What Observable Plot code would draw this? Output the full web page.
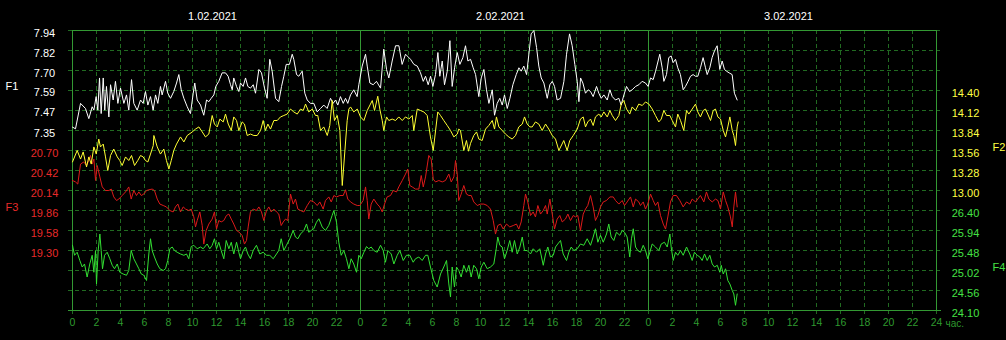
<!DOCTYPE html>
<html><head><meta charset="utf-8">
<script src="https://cdn.jsdelivr.net/npm/d3@7"></script>
<script src="https://cdn.jsdelivr.net/npm/@observablehq/plot@0.6"></script>
<style>
html,body{margin:0;padding:0;background:#000;}
#chart{position:relative;width:1006px;height:340px;overflow:hidden;background:#000;}
#chart svg{position:absolute;left:0;top:0;background:transparent !important;}
</style></head><body><div id="chart"></div>
<script>
// ---- data (hours since 1.02.2021 00:00, value) ----
const dates = ["1.02.2021", "2.02.2021", "3.02.2021"];
const dateNoon = [12, 36, 60];
const hourTicks = d3.range(0, 73, 2);
const dayBounds = [24, 48];

const f1Ticks = [7.94, 7.82, 7.70, 7.59, 7.47, 7.35];
const f2Ticks = [14.40, 14.12, 13.84, 13.56, 13.28, 13.00];
const f3Ticks = [20.70, 20.42, 20.14, 19.86, 19.58, 19.30];
const f4Ticks = [26.40, 25.94, 25.48, 25.02, 24.56, 24.10];

const f1 = [[0,7.37],[0.25,7.36],[0.67,7.51],[1.08,7.48],[1.36,7.42],[1.64,7.49],[1.78,7.47],[1.97,7.55],[2.11,7.47],[2.25,7.66],[2.39,7.45],[2.56,7.66],[2.69,7.47],[2.83,7.61],[3.03,7.43],[3.17,7.62],[3.39,7.53],[3.58,7.64],[3.78,7.51],[4.0,7.60],[4.28,7.51],[4.5,7.56],[4.69,7.47],[4.92,7.65],[5.11,7.51],[5.39,7.47],[5.67,7.53],[5.89,7.51],[6.08,7.58],[6.28,7.50],[6.5,7.55],[6.72,7.47],[6.92,7.56],[7.11,7.51],[7.33,7.61],[7.47,7.56],[7.75,7.64],[7.94,7.57],[8.17,7.54],[8.44,7.58],[8.67,7.63],[8.86,7.68],[9.06,7.59],[9.28,7.54],[9.56,7.49],[9.83,7.45],[10.06,7.57],[10.19,7.63],[10.39,7.53],[10.67,7.50],[10.94,7.44],[11.17,7.53],[11.36,7.52],[11.56,7.54],[11.78,7.56],[11.94,7.61],[12.19,7.64],[12.47,7.69],[12.75,7.69],[12.97,7.67],[13.17,7.62],[13.31,7.59],[13.44,7.66],[13.67,7.61],[13.86,7.58],[14.0,7.63],[14.22,7.61],[14.42,7.66],[14.61,7.61],[14.83,7.60],[15.06,7.62],[15.25,7.57],[15.53,7.71],[15.75,7.69],[16.0,7.60],[16.22,7.54],[16.44,7.77],[16.64,7.70],[16.92,7.54],[17.19,7.52],[17.42,7.61],[17.61,7.67],[17.81,7.74],[18.08,7.74],[18.31,7.80],[18.44,7.77],[18.67,7.68],[18.86,7.67],[19.14,7.70],[19.36,7.57],[19.56,7.53],[19.83,7.51],[20.11,7.51],[20.39,7.46],[20.67,7.48],[20.94,7.50],[21.22,7.48],[21.5,7.54],[21.72,7.51],[21.92,7.53],[22.11,7.50],[22.33,7.55],[22.56,7.51],[22.75,7.54],[22.94,7.51],[23.17,7.56],[23.44,7.59],[23.72,7.55],[23.86,7.62],[24.14,7.73],[24.42,7.80],[24.56,7.73],[24.78,7.63],[25.06,7.62],[25.33,7.64],[25.67,7.60],[25.94,7.83],[26.17,7.71],[26.36,7.66],[26.64,7.76],[26.92,7.85],[27.2,7.85],[27.47,7.74],[27.75,7.80],[28.17,7.77],[28.45,7.74],[28.73,7.73],[29.0,7.69],[29.23,7.64],[29.42,7.67],[29.64,7.62],[29.84,7.67],[30.03,7.61],[30.25,7.68],[30.45,7.81],[30.61,7.67],[30.81,7.76],[31.0,7.62],[31.23,7.70],[31.45,7.88],[31.64,7.61],[31.84,7.72],[32.06,7.81],[32.28,7.74],[32.53,7.78],[32.75,7.85],[32.95,7.76],[33.17,7.77],[33.39,7.72],[33.59,7.68],[33.86,7.55],[34.06,7.66],[34.28,7.71],[34.5,7.59],[34.7,7.51],[34.98,7.59],[35.17,7.44],[35.39,7.51],[35.61,7.54],[35.81,7.50],[36.0,7.56],[36.23,7.48],[36.45,7.54],[36.7,7.62],[36.98,7.68],[37.2,7.72],[37.39,7.70],[37.61,7.73],[37.84,7.68],[38.03,7.80],[38.22,7.92],[38.45,7.94],[38.67,7.84],[38.86,7.73],[39.06,7.66],[39.28,7.63],[39.56,7.54],[39.78,7.62],[39.98,7.64],[40.17,7.61],[40.39,7.53],[40.67,7.54],[40.95,7.64],[41.17,7.80],[41.42,7.92],[41.64,7.85],[41.86,7.74],[42.06,7.64],[42.2,7.52],[42.34,7.66],[42.53,7.63],[42.75,7.57],[42.98,7.59],[43.17,7.58],[43.39,7.55],[43.67,7.61],[43.86,7.57],[44.06,7.54],[44.28,7.56],[44.56,7.53],[44.78,7.59],[44.98,7.55],[45.25,7.53],[45.53,7.54],[45.72,7.50],[45.95,7.56],[46.17,7.61],[46.42,7.58],[46.64,7.59],[46.92,7.61],[47.2,7.62],[47.47,7.64],[47.75,7.63],[47.97,7.61],[48.17,7.66],[48.39,7.65],[48.59,7.70],[48.94,7.80],[49.14,7.72],[49.28,7.64],[49.5,7.68],[49.69,7.78],[49.89,7.79],[50.05,7.75],[50.25,7.77],[50.44,7.72],[50.66,7.68],[50.89,7.59],[51.08,7.61],[51.3,7.64],[51.5,7.67],[51.72,7.68],[51.91,7.67],[52.11,7.67],[52.33,7.72],[52.55,7.78],[52.75,7.72],[52.89,7.68],[53.11,7.72],[53.3,7.78],[53.5,7.82],[53.72,7.85],[53.94,7.71],[54.14,7.76],[54.33,7.71],[54.5,7.70],[54.72,7.69],[54.97,7.68],[55.16,7.57],[55.39,7.53]];

const f2 = [[0,13.40],[0.39,13.56],[0.67,13.44],[0.89,13.54],[1.17,13.33],[1.36,13.47],[1.56,13.37],[1.78,13.61],[1.98,13.51],[2.19,13.72],[2.33,13.61],[2.56,13.65],[2.75,13.47],[2.94,13.28],[3.17,13.49],[3.44,13.58],[3.73,13.47],[3.94,13.42],[4.14,13.35],[4.42,13.47],[4.69,13.42],[4.92,13.49],[5.17,13.35],[5.44,13.42],[5.67,13.49],[5.89,13.47],[6.08,13.42],[6.28,13.40],[6.5,13.51],[6.73,13.63],[6.78,13.77],[7.06,13.61],[7.33,13.51],[7.61,13.58],[7.83,13.42],[8.03,13.30],[8.23,13.42],[8.44,13.56],[8.67,13.65],[9.0,13.75],[9.28,13.68],[9.56,13.77],[9.98,13.82],[10.25,13.86],[10.53,13.89],[10.81,13.82],[11.08,13.75],[11.36,13.79],[11.64,14.05],[11.83,13.93],[12.06,13.89],[12.28,14.00],[12.56,13.96],[12.75,14.07],[12.98,13.93],[13.23,13.84],[13.44,14.03],[13.67,13.98],[13.86,13.84],[14.14,13.96],[14.33,13.93],[14.56,13.77],[14.83,13.79],[15.11,13.77],[15.39,13.77],[15.67,13.84],[15.89,13.98],[16.08,13.84],[16.28,13.93],[16.5,13.86],[16.78,13.98],[17.06,13.98],[17.33,14.03],[17.61,14.05],[17.89,14.07],[18.17,14.14],[18.44,14.10],[18.73,14.07],[19.0,14.14],[19.23,14.12],[19.42,14.21],[19.69,14.10],[19.98,14.14],[20.25,14.05],[20.44,14.05],[20.67,13.84],[20.94,13.89],[21.23,13.77],[21.44,13.91],[21.64,14.26],[21.83,13.98],[22.06,14.05],[22.28,13.84],[22.48,13.07],[22.89,13.98],[23.03,14.14],[23.17,14.17],[23.44,14.10],[23.73,14.14],[24.0,14.03],[24.28,13.98],[24.56,14.12],[24.83,14.21],[24.98,14.26],[25.17,14.12],[25.44,14.32],[25.61,14.14],[25.81,13.98],[25.94,13.84],[26.17,14.03],[26.36,13.98],[26.64,14.00],[26.92,13.98],[27.19,14.03],[27.48,13.98],[27.75,14.03],[28.03,14.00],[28.31,14.05],[28.44,13.84],[28.73,14.14],[29.0,14.12],[29.28,14.10],[29.56,14.05],[29.83,13.75],[30.06,13.56],[30.44,14.10],[30.67,14.05],[30.94,13.98],[31.23,13.91],[31.5,13.84],[31.78,13.75],[32.06,13.79],[32.19,13.86],[32.33,13.84],[32.61,13.56],[32.83,13.70],[33.0,13.55],[33.17,13.66],[33.44,13.77],[33.67,13.82],[33.86,13.72],[34.14,13.70],[34.42,13.86],[34.69,13.91],[34.98,13.98],[35.17,13.86],[35.33,14.03],[35.53,13.89],[35.81,13.84],[36.08,13.79],[36.36,13.75],[36.64,13.72],[36.92,13.77],[37.19,13.89],[37.48,13.93],[37.67,14.03],[37.89,13.93],[38.11,13.89],[38.31,13.89],[38.58,13.96],[38.86,13.93],[39.14,13.84],[39.42,13.93],[39.69,13.86],[39.98,13.77],[40.25,13.72],[40.53,13.56],[40.94,13.70],[41.22,13.56],[41.44,13.70],[41.73,13.77],[42.06,13.86],[42.33,14.00],[42.56,14.03],[42.75,13.89],[42.94,13.96],[43.17,14.00],[43.39,13.91],[43.58,14.03],[43.86,14.07],[44.06,14.03],[44.28,14.10],[44.56,14.03],[44.78,14.12],[44.98,14.05],[45.25,13.98],[45.53,14.05],[45.73,14.21],[45.94,14.26],[46.17,14.14],[46.44,14.07],[46.64,14.17],[46.92,14.12],[47.19,14.21],[47.48,14.19],[47.75,14.24],[48.03,14.21],[48.31,14.14],[48.58,14.05],[48.86,13.96],[49.06,14.00],[49.28,14.12],[49.5,14.05],[49.78,14.05],[49.98,13.98],[50.25,13.89],[50.44,14.07],[50.67,13.98],[50.94,13.84],[51.17,14.12],[51.36,14.07],[51.64,14.14],[51.92,14.21],[52.11,14.10],[52.33,14.03],[52.56,14.12],[52.75,14.14],[52.94,14.07],[53.17,13.98],[53.39,14.12],[53.58,14.14],[53.78,14.03],[54.0,14.00],[54.23,13.84],[54.42,13.75],[54.61,13.89],[54.78,14.03],[54.98,13.84],[55.11,13.77],[55.25,13.63],[55.39,13.89],[55.48,13.96]];

const f3 = [[0,20.28],[0.25,20.26],[0.44,20.23],[0.67,20.51],[0.94,20.54],[1.17,20.49],[1.36,20.56],[1.5,20.63],[1.64,20.51],[1.78,20.58],[1.92,20.28],[2.06,20.49],[2.28,20.33],[2.48,20.19],[2.75,20.14],[3.03,20.14],[3.23,20.16],[3.44,20.05],[3.67,20.00],[3.86,20.02],[4.14,20.07],[4.42,20.12],[4.69,20.19],[4.89,20.02],[5.11,20.14],[5.33,20.07],[5.53,20.12],[5.73,20.07],[5.94,20.09],[6.17,20.14],[6.36,20.15],[6.64,20.16],[6.83,20.14],[7.06,20.02],[7.28,19.95],[7.56,19.93],[7.83,19.91],[8.11,19.86],[8.39,19.84],[8.58,19.91],[8.78,19.95],[9.0,19.84],[9.23,19.91],[9.42,19.88],[9.69,19.86],[9.89,19.88],[10.11,19.77],[10.25,19.63],[10.39,19.72],[10.61,19.84],[10.81,19.65],[10.94,19.39],[11.14,19.58],[11.36,19.67],[11.64,19.74],[11.83,19.84],[12.0,19.60],[12.19,19.72],[12.39,19.70],[12.61,19.72],[12.83,19.79],[13.03,19.81],[13.23,19.74],[13.44,19.67],[13.67,19.58],[13.86,19.56],[14.14,19.51],[14.33,19.39],[14.5,19.44],[14.64,19.63],[14.83,19.84],[15.06,19.88],[15.33,19.86],[15.53,19.91],[15.75,19.84],[15.94,19.72],[16.17,19.86],[16.36,19.91],[16.56,19.84],[16.78,19.88],[17.0,19.84],[17.19,19.81],[17.39,19.65],[17.56,19.70],[17.75,19.74],[17.94,19.72],[18.17,20.09],[18.39,19.95],[18.58,20.02],[18.78,19.88],[19.0,19.86],[19.28,19.84],[19.56,19.93],[19.83,20.00],[20.11,19.98],[20.39,19.93],[20.61,19.98],[20.89,19.88],[21.08,20.00],[21.36,20.05],[21.56,19.98],[21.78,20.07],[22.0,20.05],[22.28,20.07],[22.56,20.07],[22.75,20.15],[22.94,20.02],[23.17,19.98],[23.44,19.95],[23.73,19.93],[23.94,19.93],[24.22,20.00],[24.42,20.19],[24.56,20.00],[24.69,19.74],[24.89,19.95],[25.11,20.02],[25.39,19.95],[25.61,19.91],[25.81,19.84],[26.0,19.95],[26.22,20.05],[26.5,20.07],[26.73,20.14],[27.0,20.12],[27.19,20.19],[27.48,20.28],[27.75,20.37],[27.94,20.44],[28.11,20.21],[28.31,20.19],[28.58,20.16],[28.86,20.16],[29.06,20.35],[29.23,20.19],[29.42,20.33],[29.69,20.63],[29.89,20.58],[30.06,20.30],[30.25,20.26],[30.53,20.28],[30.81,20.26],[31.08,20.28],[31.36,20.37],[31.56,20.26],[31.78,20.33],[31.92,20.56],[32.06,20.37],[32.19,20.00],[32.39,20.09],[32.61,20.21],[32.83,20.09],[33.03,20.07],[33.23,20.07],[33.44,19.98],[33.73,19.93],[34.0,19.95],[34.28,19.95],[34.56,19.93],[34.83,19.88],[35.06,19.72],[35.25,19.53],[35.44,19.65],[35.67,19.67],[35.89,19.60],[36.17,19.67],[36.44,19.63],[36.73,19.65],[37.0,19.67],[37.19,19.60],[37.39,19.70],[37.61,19.93],[37.75,20.09],[37.94,19.98],[38.17,19.79],[38.39,19.84],[38.58,19.77],[38.78,19.93],[39.0,19.81],[39.23,19.86],[39.42,19.93],[39.56,19.81],[39.78,20.02],[39.98,19.81],[40.17,19.60],[40.39,19.74],[40.61,19.79],[40.81,19.70],[41.08,19.74],[41.28,19.81],[41.5,19.72],[41.73,19.79],[41.92,19.77],[42.11,19.79],[42.33,19.58],[42.56,19.81],[42.75,19.88],[42.94,19.93],[43.17,20.07],[43.39,19.91],[43.58,19.72],[43.78,19.79],[44.0,19.91],[44.23,19.98],[44.5,20.00],[44.78,20.05],[45.06,20.05],[45.25,20.00],[45.53,19.95],[45.81,20.00],[46.0,19.93],[46.22,19.98],[46.5,20.05],[46.73,19.91],[46.92,20.02],[47.19,19.98],[47.33,19.93],[47.56,19.98],[47.75,19.88],[47.94,19.95],[48.17,20.09],[48.39,20.00],[48.58,19.93],[48.78,19.98],[49.0,19.79],[49.23,19.67],[49.42,19.60],[49.61,19.77],[49.83,19.98],[50.06,20.07],[50.33,20.07],[50.61,20.00],[50.89,19.91],[51.17,19.98],[51.44,19.95],[51.64,20.02],[51.92,19.98],[52.11,20.02],[52.33,20.07],[52.61,19.98],[52.83,20.12],[53.03,20.02],[53.31,19.98],[53.58,20.02],[53.78,20.00],[54.0,19.88],[54.23,20.12],[54.42,20.00],[54.61,19.91],[54.83,19.77],[54.98,19.63],[55.11,19.91],[55.25,20.12],[55.39,19.91]];

const f4 = [[0,25.60],[0.17,25.37],[0.39,25.44],[0.61,25.25],[0.81,25.10],[1.0,25.17],[1.22,24.87],[1.44,25.17],[1.64,25.37],[1.78,24.98],[1.92,25.48],[2.0,24.71],[2.14,25.48],[2.28,25.86],[2.39,25.48],[2.5,25.06],[2.67,25.37],[2.89,25.44],[3.11,25.29],[3.31,25.14],[3.5,25.06],[3.73,25.17],[3.94,24.98],[4.22,24.94],[4.5,24.91],[4.69,25.02],[4.89,25.48],[5.11,25.29],[5.33,25.17],[5.53,25.06],[5.73,24.94],[5.94,24.91],[6.17,24.79],[6.36,25.40],[6.5,25.75],[6.64,25.48],[6.83,25.33],[7.06,25.17],[7.28,25.06],[7.56,25.02],[7.75,25.06],[7.94,25.25],[8.11,25.52],[8.31,25.56],[8.5,25.48],[8.72,25.44],[9.0,25.40],[9.28,25.37],[9.5,25.40],[9.69,25.29],[9.89,25.57],[10.11,25.60],[10.39,25.52],[10.67,25.56],[10.89,25.52],[11.22,25.63],[11.44,25.52],[11.64,25.60],[11.83,25.75],[12.0,25.52],[12.19,25.67],[12.39,25.48],[12.61,25.29],[12.81,25.71],[13.03,25.52],[13.23,25.67],[13.44,25.40],[13.67,25.67],[13.86,25.44],[14.0,25.29],[14.23,25.48],[14.42,25.56],[14.61,25.40],[14.83,25.29],[15.06,25.48],[15.33,25.60],[15.61,25.40],[15.89,25.44],[16.17,25.37],[16.44,25.37],[16.73,25.29],[17.0,25.40],[17.19,25.48],[17.39,25.75],[17.61,25.48],[17.83,25.60],[18.11,25.75],[18.39,25.94],[18.58,25.79],[18.78,25.75],[19.0,25.86],[19.28,25.94],[19.5,26.09],[19.69,25.90],[19.89,25.94],[20.11,25.98],[20.33,26.13],[20.53,26.21],[20.81,26.02],[21.08,25.94],[21.36,26.06],[21.64,26.29],[21.78,26.40],[22.0,26.13],[22.19,25.67],[22.39,25.37],[22.61,25.48],[22.83,25.29],[23.03,25.06],[23.22,25.29],[23.44,25.17],[23.67,24.98],[23.86,25.37],[24.06,25.29],[24.28,25.44],[24.5,25.57],[24.69,25.52],[24.89,25.56],[25.11,25.48],[25.39,25.44],[25.67,25.60],[25.89,25.48],[26.08,25.21],[26.28,25.48],[26.56,25.40],[26.78,25.17],[27.06,25.37],[27.28,25.48],[27.56,25.25],[27.83,25.37],[28.11,25.37],[28.39,25.21],[28.58,25.29],[28.86,25.33],[29.14,25.25],[29.42,25.37],[29.61,25.37],[29.83,25.10],[30.11,24.79],[30.39,24.64],[30.67,24.94],[30.94,25.10],[31.17,25.25],[31.36,24.71],[31.5,24.41],[31.64,25.10],[31.83,24.64],[32.0,25.10],[32.19,25.02],[32.39,24.87],[32.61,25.14],[32.83,24.98],[33.03,25.14],[33.22,24.87],[33.44,25.14],[33.67,25.06],[33.86,24.83],[34.06,25.10],[34.28,25.21],[34.56,25.06],[34.83,25.10],[35.11,25.17],[35.31,25.52],[35.44,25.79],[35.61,25.60],[35.81,25.56],[36.0,25.29],[36.22,25.48],[36.44,25.71],[36.64,25.44],[36.83,25.71],[37.06,25.40],[37.28,25.56],[37.48,25.79],[37.67,25.48],[37.89,25.48],[38.17,25.40],[38.39,25.52],[38.67,25.44],[38.94,25.52],[39.23,25.14],[39.42,25.40],[39.61,25.56],[39.83,25.33],[40.06,25.37],[40.25,25.56],[40.44,25.63],[40.67,25.71],[40.89,25.40],[41.17,25.25],[41.36,25.44],[41.56,25.56],[41.78,25.48],[42.06,25.52],[42.33,25.63],[42.61,25.60],[42.89,25.75],[43.17,25.60],[43.39,25.79],[43.58,25.98],[43.78,25.67],[44.0,25.83],[44.23,25.67],[44.5,25.86],[44.69,26.09],[44.89,25.79],[45.11,25.71],[45.33,25.90],[45.61,25.83],[45.81,25.94],[46.0,25.90],[46.22,25.79],[46.44,25.33],[46.58,25.75],[46.73,25.98],[46.92,25.56],[47.11,25.48],[47.33,25.44],[47.56,25.60],[47.75,25.48],[47.94,25.29],[48.11,25.44],[48.31,25.63],[48.58,25.56],[48.86,25.48],[49.06,25.63],[49.33,25.67],[49.56,25.56],[49.78,25.86],[49.89,25.56],[50.06,25.25],[50.25,25.44],[50.44,25.37],[50.67,25.48],[50.89,25.37],[51.17,25.56],[51.44,25.40],[51.64,25.25],[51.83,25.44],[52.06,25.37],[52.28,25.33],[52.47,25.25],[52.67,25.40],[52.89,25.25],[53.11,25.37],[53.31,25.17],[53.5,25.10],[53.73,25.14],[53.94,24.98],[54.06,25.14],[54.23,24.94],[54.42,25.06],[54.61,24.79],[54.78,24.71],[54.98,24.56],[55.11,24.48],[55.25,24.22],[55.39,24.48]];

// ---- layout ----
const W = 1006, H = 340;
const MT = 30, MB = 30, ML = 72, MR = 70;
const ROWS = 14;
const FONT = "'Liberation Sans', Arial, sans-serif";
const FRAME = "#339933", GRID = "#216a21", AXIS = "#2f9a2f";

// each series: value scale anchored to its tick column
const series = [
  {name: "F1", data: f1, ticks: f1Ticks, row: 0, step: 0.118, color: "#ffffff", text: "#ffffff", side: "left"},
  {name: "F4", data: f4, ticks: f4Ticks, row: 9, step: 0.46, color: "#33e033", text: "#44e044", side: "right"},
  {name: "F3", data: f3, ticks: f3Ticks, row: 6, step: 0.28, color: "#dd1a1a", text: "#e82a2a", side: "left"},
  {name: "F2", data: f2, ticks: f2Ticks, row: 3, step: 0.28, color: "#ffff33", text: "#ffff44", side: "right"}
];
series.forEach(s => {
  const top = s.ticks[0] + s.row * s.step;
  s.domain = [top - ROWS * s.step, top];
});

const base = {
  width: W, height: H, marginTop: MT, marginBottom: MB, marginLeft: ML, marginRight: MR,
  x: {domain: [0, 72], axis: null},
  style: {background: "transparent", fontFamily: FONT, fontSize: "11px", overflow: "visible"}
};
const pxH = 72 / (W - ML - MR); // hours per pixel

function layer(s, extra) {
  const left = s.side === "left";
  return Plot.plot({
    ...base,
    y: {domain: s.domain, axis: null},
    marks: [
      ...extra,
      Plot.text(s.ticks, {x: () => left ? 0 : 72, y: d => d, text: d => d.toFixed(2),
        textAnchor: "middle", dx: left ? -28 : 29, dy: 2.5, fill: s.text}),
      Plot.text([s.name], {x: () => left ? 0 : 72, y: () => s.ticks[3], text: d => d,
        textAnchor: "start", dx: left ? -67 : 56, dy: -3, fill: s.text}),
      Plot.line(s.data, {x: d => d[0], y: d => d[1], stroke: s.color, strokeWidth: 1})
    ]
  });
}

// grid marks drawn on the first (F1) layer
const s0 = series[0];
const yPx = (s0.domain[1] - s0.domain[0]) / (H - MT - MB);
const gridRows = d3.range(ROWS + 1).map(i => s0.domain[1] - i * s0.step);
const gridMarks = [
  Plot.ruleY(gridRows, {y: d => d, x1: -4 * pxH, x2: 72 + 5 * pxH, stroke: GRID, strokeDasharray: "4,3"}),
  Plot.ruleX(hourTicks, {x: d => d, y1: s0.domain[1], y2: s0.domain[0] - 5 * yPx, stroke: GRID, strokeDasharray: "4,3"}),
  Plot.ruleX(dayBounds, {x: d => d, stroke: FRAME}),
  Plot.frame({stroke: FRAME}),
  Plot.ruleY([s0.domain[0]], {x1: -4 * pxH, x2: 72 + 5 * pxH, stroke: FRAME}),
  Plot.text(hourTicks, {x: d => d, frameAnchor: "bottom", dy: 15, fontSize: 10.5, text: d => d === 72 ? "24" : String(d % 24), fill: AXIS}),
  Plot.text(["час."], {x: () => 72, frameAnchor: "bottom", dy: 16.5, dx: 9, fontSize: 10, textAnchor: "start", text: d => d, fill: AXIS}),
  Plot.text(dates, {x: (d, i) => dateNoon[i], frameAnchor: "top", dy: -18, dx: -4, text: d => d, fill: "#ffffff"})
];

const chart = document.getElementById("chart");
series.forEach((s, i) => chart.appendChild(layer(s, i === 0 ? gridMarks : [])));
</script></body></html>
